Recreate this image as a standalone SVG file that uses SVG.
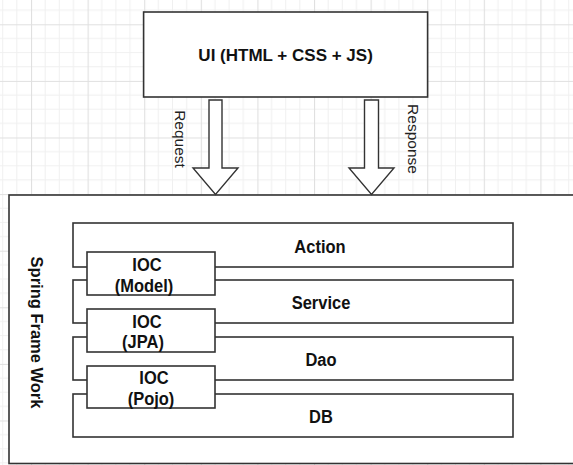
<svg xmlns="http://www.w3.org/2000/svg" width="573" height="465" viewBox="0 0 573 465">
  <defs>
    <pattern id="grid" patternUnits="userSpaceOnUse" x="31" y="24.3" width="56.6" height="56.6">
      <path d="M14.15 0V56.6M28.3 0V56.6M42.45 0V56.6M0 14.15H56.6M0 28.3H56.6M0 42.45H56.6" stroke="#f0f0f0" stroke-width="1" fill="none"/>
      <path d="M0.5 0V56.6M0 0.5H56.6" stroke="#e0e0e0" stroke-width="1.2" fill="none"/>
    </pattern>
    <style>
      .box { fill: #fff; stroke: #333; stroke-width: 1.6; }
      .arrow { fill: #fff; stroke: #333; stroke-width: 1.4; stroke-linejoin: miter; }
      .b { font-family: "Liberation Sans", Arial, sans-serif; font-weight: bold; font-size: 16.5px; fill: #111; text-anchor: middle; }
      .r { font-family: "Liberation Sans", Arial, sans-serif; font-size: 15.5px; fill: #222; text-anchor: middle; }
    </style>
  </defs>
  <rect x="0" y="0" width="573" height="465" fill="#fff"/>
  <rect x="0" y="0" width="573" height="465" fill="url(#grid)"/>

  <g id="ui">
    <rect class="box" x="143.6" y="12" width="284" height="85"/>
    <text class="b" x="285.6" y="60.5" style="font-size:17px">UI (HTML + CSS + JS)</text>
  </g>

  <g id="frame">
    <rect class="box" x="9" y="195" width="600" height="268.5"/>
    <text class="b" transform="translate(31 332.5) rotate(90)" x="0" y="0">Spring Frame Work</text>
  </g>

  <g id="action">
    <rect class="box" x="73" y="223" width="440" height="44"/>
    <text class="b" transform="translate(320 252.8) scale(1 1.12)">Action</text>
  </g>
  <g id="service">
    <rect class="box" x="73" y="280" width="440" height="43"/>
    <text class="b" transform="translate(321 308.6) scale(1 1.12)">Service</text>
  </g>
  <g id="dao">
    <rect class="box" x="73" y="337" width="440" height="43"/>
    <text class="b" transform="translate(321 365.6) scale(1 1.12)">Dao</text>
  </g>
  <g id="db">
    <rect class="box" x="73" y="394" width="440" height="43"/>
    <text class="b" transform="translate(321 422.6) scale(1 1.12)">DB</text>
  </g>

  <g id="ioc-model">
    <rect class="box" x="87" y="252" width="128" height="43"/>
    <text class="b" transform="translate(147 270.6) scale(1 1.12)">IOC</text>
    <text class="b" transform="translate(144 291.6) scale(1 1.12)">(Model)</text>
  </g>
  <g id="ioc-jpa">
    <rect class="box" x="87" y="309" width="128" height="43"/>
    <text class="b" transform="translate(147 328) scale(1 1.12)">IOC</text>
    <text class="b" transform="translate(143 348) scale(1 1.12)">(JPA)</text>
  </g>
  <g id="ioc-pojo">
    <rect class="box" x="87" y="366" width="128" height="42"/>
    <text class="b" transform="translate(154 384) scale(1 1.12)">IOC</text>
    <text class="b" transform="translate(151 404.6) scale(1 1.12)">(Pojo)</text>
  </g>

  <g id="connectors">
    <polygon class="arrow" points="209,100 222,100 222,168 238,168 215.5,194.5 193,168 209,168"/>
    <text class="r" transform="translate(174.5 139) rotate(90)" x="0" y="0">Request</text>
    <polygon class="arrow" points="364.5,100 378.5,100 378.5,168 394,168 371.5,194.5 349,168 364.5,168"/>
    <text class="r" transform="translate(408 139) rotate(90)" x="0" y="0">Response</text>
  </g>
</svg>
